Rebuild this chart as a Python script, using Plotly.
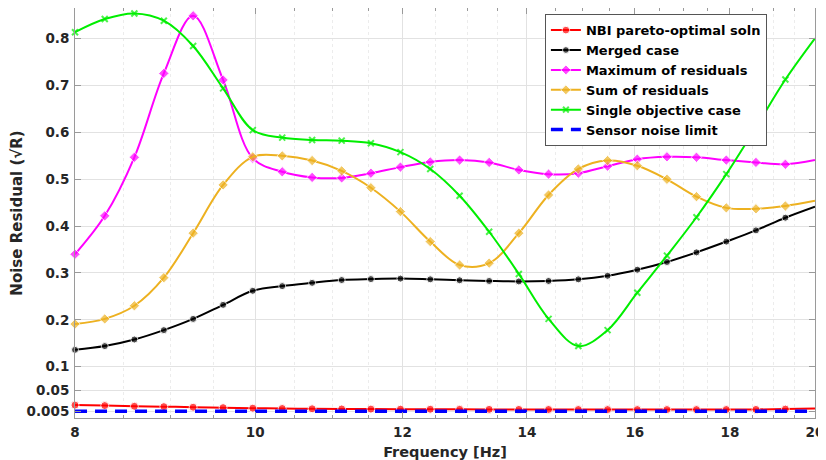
import math
import plotly.graph_objects as go

freq = [8.00, 8.30, 8.61, 8.93, 9.26, 9.61, 9.97, 10.34, 10.73, 11.13, 11.54, 11.97, 12.42,
        12.88, 13.36, 13.86, 14.38, 14.92, 15.47, 16.05, 16.65, 17.27, 17.92, 18.59, 19.28, 20.00]

nbi = [0.018, 0.017, 0.0155, 0.0147, 0.0135, 0.0126, 0.0115, 0.0108, 0.0102, 0.0098, 0.0095,
       0.0093, 0.0092, 0.0090, 0.0089, 0.0088, 0.0087, 0.0086, 0.0085, 0.0085, 0.0085, 0.0085,
       0.0086, 0.0088, 0.0095, 0.011]
merged = [0.136, 0.144, 0.158, 0.178, 0.202, 0.232, 0.262, 0.272, 0.279, 0.285, 0.287, 0.288,
          0.2865, 0.2845, 0.283, 0.282, 0.283, 0.2865, 0.294, 0.307, 0.3235, 0.344, 0.367,
          0.391, 0.418, 0.4415]
max_res = [0.340, 0.422, 0.547, 0.726, 0.849, 0.712, 0.545, 0.516, 0.504, 0.503, 0.513, 0.526,
           0.537, 0.541, 0.536, 0.520, 0.511, 0.513, 0.528, 0.543, 0.548, 0.547, 0.541, 0.536,
           0.532, 0.541]
sum_res = [0.191, 0.202, 0.230, 0.290, 0.385, 0.488, 0.548, 0.550, 0.540, 0.518, 0.482, 0.431,
           0.367, 0.317, 0.321, 0.385, 0.4665, 0.522, 0.540, 0.529, 0.500, 0.463, 0.439, 0.437,
           0.443, 0.454]
single = [0.814, 0.842, 0.854, 0.8385, 0.7845, 0.694, 0.605, 0.589, 0.584, 0.5825, 0.577, 0.558,
          0.522, 0.465, 0.388, 0.298, 0.202, 0.144, 0.178, 0.258, 0.337, 0.419, 0.511, 0.611,
          0.713, 0.801]
sensor = [0.005] * len(freq)

x_ticks = [8, 10, 12, 14, 16, 18, 20]
x_minor = [8.5, 9, 9.5, 10.5, 11, 11.5, 12.5, 13, 13.5, 14.5, 15, 15.5, 16.5, 17, 17.5,
           18.5, 19, 19.5]
y_ticks = [0.005, 0.05, 0.1, 0.2, 0.3, 0.4, 0.5, 0.6, 0.7, 0.8]
y_ticktext = ["0.005", "0.05", "0.1", "0.2", "0.3", "0.4", "0.5", "0.6", "0.7", "0.8"]

n = len(freq)


def msizes(s):
    return [s] * (n - 1) + [0]


FONT = "DejaVu Sans"
fig = go.Figure()

series = [
    ("NBI pareto-optimal soln", nbi, "#ff0000", "circle", 8, None),
    ("Merged case", merged, "#000000", "circle", 7, None),
    ("Maximum of residuals", max_res, "#ff00ff", "diamond", 8, None),
    ("Sum of residuals", sum_res, "#EDB120", "diamond", 8, None),
    ("Single objective case", single, "#00ee00", "x-thin", 6, 2),
]
for name, vals, col, sym, sz, lw in series:
    mk = dict(symbol=sym, size=msizes(sz), color=col)
    if lw:
        mk["line"] = dict(width=lw, color=col)
    fig.add_trace(go.Scatter(
        x=freq, y=vals, name=name, mode="lines+markers",
        line=dict(color=col, width=2, shape="spline", smoothing=1),
        marker=mk, cliponaxis=False,
    ))

fig.add_trace(go.Scatter(
    x=freq, y=sensor, name="Sensor noise limit", mode="lines",
    line=dict(color="#0000ff", width=3.5, dash="12px,8px"),
))

x_range = [math.log10(min(x_ticks)) - 1e-5, math.log10(max(x_ticks)) + 1e-5]

axis_col = "#9a9a9a"
fig.update_layout(
    width=818, height=452,
    margin=dict(l=67, r=11, t=0, b=42),
    paper_bgcolor="white", plot_bgcolor="white",
    font=dict(family=FONT, size=13, color="#262626"),
    showlegend=True,
    legend=dict(
        x=0.635, y=0.985, xanchor="left", yanchor="top",
        bgcolor="white", bordercolor="#555555", borderwidth=1,
        font=dict(family=FONT, size=13, color="#000000", weight="bold"),
        tracegroupgap=0, itemwidth=30,
    ),
    xaxis=dict(
        type="log", range=x_range, automargin=False,
        tickmode="array", tickvals=x_ticks, ticktext=[str(v) for v in x_ticks],
        ticks="inside", ticklen=6, tickcolor=axis_col, tickwidth=1,
        showline=True, linecolor=axis_col, linewidth=1, mirror="allticks",
        showgrid=True, gridcolor="#e2e2e2", gridwidth=1,
        ticklabelstandoff=2,
        tickfont=dict(family=FONT, size=13.5, color="#262626", weight="bold"),
        title=dict(text="Frequency [Hz]",
                   font=dict(family=FONT, size=14.5, color="#262626", weight="bold")),
        minor=dict(tickmode="array", tickvals=x_minor, ticks="inside", ticklen=3,
                   tickcolor=axis_col, showgrid=True, gridcolor="#ececec", griddash="dot",
                   gridwidth=1),
        zeroline=False,
    ),
    yaxis=dict(
        range=[-0.0095, 0.8656], automargin=False,
        tickmode="array", tickvals=y_ticks, ticktext=y_ticktext,
        ticks="inside", ticklen=6, tickcolor=axis_col, tickwidth=1,
        showline=True, linecolor=axis_col, linewidth=1, mirror="allticks",
        showgrid=True, gridcolor="#e2e2e2", gridwidth=1,
        ticklabelstandoff=2,
        tickfont=dict(family=FONT, size=13.5, color="#262626", weight="bold"),
        title=dict(text="Noise Residual (√R)", standoff=1,
                   font=dict(family=FONT, size=15, color="#262626", weight="bold")),
        zeroline=False,
    ),
)

fig.write_html("out.html")
